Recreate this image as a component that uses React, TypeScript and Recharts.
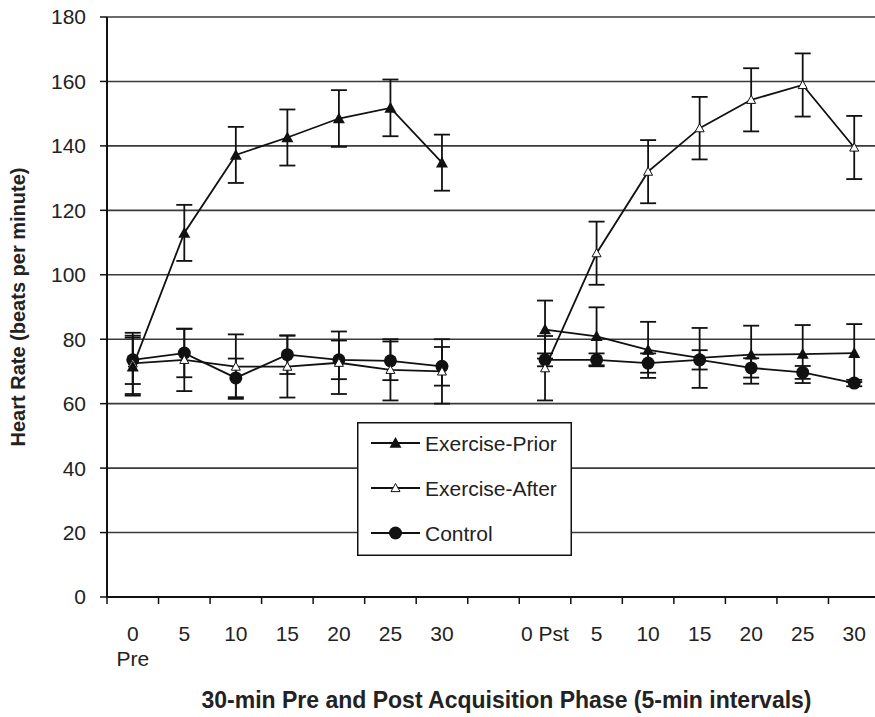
import React from "react";
import { ComposedChart, Line, XAxis, YAxis, CartesianGrid, ErrorBar, Legend } from "recharts";

// 15 slots: 7 pre-phase, 1 empty gap, 7 post-phase
const categories = ["0\nPre", "5", "10", "15", "20", "25", "30", "", "0 Pst", "5", "10", "15", "20", "25", "30"];

const exercisePrior = [71.5, 113, 137.2, 142.6, 148.5, 151.8, 134.8, null, 83, 80.9, 76.7, 74.2, 75.2, 75.4, 75.7];
const exercisePriorErr = [9, 8.7, 8.7, 8.7, 8.8, 8.8, 8.7, null, 9, 9, 8.7, 9.3, 9, 9, 9];

const exerciseAfter = [72.5, 73.6, 71.5, 71.5, 72.7, 70.5, 70.0, null, 71, 106.7, 132, 145.5, 154.3, 158.9, 139.5];
const exerciseAfterErr = [9.5, 9.7, 10, 9.6, 9.7, 9.5, 10, null, 10, 9.8, 9.8, 9.7, 9.8, 9.8, 9.8];

const control = [73.6, 75.7, 68.0, 75.2, 73.6, 73.3, 71.6, null, 73.6, 73.6, 72.6, 73.6, 71.1, 69.7, 66.4];
const controlErr = [7.5, 7.5, 6, 6, 6, 6, 6, null, 2, 2, 3, 3, 3, 2, 1];

const yTicks = [0, 20, 40, 60, 80, 100, 120, 140, 160, 180];

const font = "'Liberation Sans', Arial, sans-serif";
const ink = "#111";

const data = categories.map((label, i) => ({
  x: i + 0.5,
  label,
  prior: exercisePrior[i],
  priorErr: exercisePriorErr[i],
  after: exerciseAfter[i],
  afterErr: exerciseAfterErr[i],
  control: control[i],
  controlErr: controlErr[i],
}));

const boundaryTicks = categories.map((_, i) => i).concat(categories.length);
const labelTicks = categories.map((_, i) => i + 0.5).filter((_, i) => categories[i] !== "");

const FilledTriangle = (props: any) => {
  const { cx, cy, index } = props;
  if (cx == null || cy == null) return <g key={`fp${index}`} />;
  const s = 6;
  return <path key={`fp${index}`} d={`M${cx},${cy - s} L${cx + s},${cy + s * 0.8} L${cx - s},${cy + s * 0.8} Z`} fill={ink} />;
};

const OpenTriangle = (props: any) => {
  const { cx, cy, index } = props;
  if (cx == null || cy == null) return <g key={`oa${index}`} />;
  const s = 4.5;
  return <path key={`oa${index}`} d={`M${cx},${cy - s} L${cx + s},${cy + s * 0.8} L${cx - s},${cy + s * 0.8} Z`} fill="#fff" stroke={ink} strokeWidth={1} />;
};

const Circle = (props: any) => {
  const { cx, cy, index } = props;
  if (cx == null || cy == null) return <g key={`cc${index}`} />;
  return <circle key={`cc${index}`} cx={cx} cy={cy} r={6.5} fill={ink} />;
};

const XTick = (props: any) => {
  const { x, y, payload } = props;
  const lines = categories[Math.floor(payload.value)].split("\n");
  return (
    <text x={x} y={y} textAnchor="middle" fontSize={21} fill="#222" fontFamily={font}>
      {lines.map((l, i) => (
        <tspan key={i} x={x} dy={i === 0 ? 34 : 25}>{l}</tspan>
      ))}
    </text>
  );
};

const YTitle = (props: any) => {
  const vb = props.viewBox || {};
  const x = (vb.x || 0) + 18;
  const y = (vb.y || 0) + (vb.height || 0) / 2;
  return (
    <text
      x={x}
      y={y}
      transform={`rotate(-90, ${x}, ${y})`}
      textAnchor="middle"
      dominantBaseline="central"
      fontSize={20}
      fontWeight="bold"
      fill="#222"
      fontFamily={font}
    >
      Heart Rate (beats per minute)
    </text>
  );
};

const legendItems = [
  { name: "Exercise-Prior", Marker: FilledTriangle },
  { name: "Exercise-After", Marker: OpenTriangle },
  { name: "Control", Marker: Circle },
];

const LegendBox = () => (
  <svg width={215} height={134} style={{ display: "block" }}>
    <rect x={0.75} y={0.75} width={213.5} height={132.5} fill="#fff" stroke={ink} strokeWidth={1.5} />
    {legendItems.map((it, i) => {
      const cy = 21 + i * 45;
      return (
        <g key={it.name}>
          <line x1={14} x2={63} y1={cy} y2={cy} stroke={ink} strokeWidth={1.8} />
          <it.Marker cx={38.5} cy={cy} index={i} />
          <text x={68} y={cy + 7.5} fontSize={21} fill="#222" fontFamily={font}>{it.name}</text>
        </g>
      );
    })}
  </svg>
);

export default function App() {
  return (
    <div style={{ position: "absolute", left: 0, top: 0, width: 875, height: 717, overflow: "hidden", background: "#fff" }}>
      <ComposedChart width={890} height={717} data={data} margin={{ top: 17, right: 10, left: 0, bottom: 0 }}>
        <CartesianGrid vertical={false} stroke="#3a3a3a" strokeWidth={1.6} />
        <XAxis
          dataKey="x"
          type="number"
          domain={[0, categories.length]}
          ticks={boundaryTicks}
          interval={0}
          height={10}
          tickSize={7}
          tickFormatter={() => ""}
          axisLine={{ stroke: ink, strokeWidth: 2 }}
          tickLine={{ stroke: ink, strokeWidth: 1.5 }}
        />
        <XAxis
          xAxisId="lab"
          dataKey="x"
          type="number"
          domain={[0, categories.length]}
          ticks={labelTicks}
          interval={0}
          height={110}
          tickSize={0}
          tickMargin={0}
          axisLine={false}
          tickLine={false}
          tick={<XTick />}
          label={{
            value: "30-min Pre and Post Acquisition Phase (5-min intervals)",
            position: "insideBottom",
            offset: 9,
            dx: 13,
            style: { fontSize: 23, fontWeight: "bold", fill: "#222", fontFamily: font },
          }}
        />
        <YAxis
          type="number"
          domain={[0, 180]}
          ticks={yTicks}
          interval={0}
          width={107}
          tickSize={7}
          tickMargin={14}
          axisLine={{ stroke: ink, strokeWidth: 2 }}
          tickLine={{ stroke: ink, strokeWidth: 1.5 }}
          tick={{ fontSize: 21, fill: "#222", fontFamily: font }}
          label={<YTitle />}
        />
        <Legend
          layout="vertical"
          align="center"
          verticalAlign="middle"
          wrapperStyle={{ left: 357, top: 422, width: 215, height: 134 }}
          content={() => <LegendBox />}
        />
        <Line
          xAxisId="lab"
          dataKey="control"
          name="Control"
          stroke={ink}
          strokeWidth={1.8}
          dot={Circle}
          activeDot={false}
          isAnimationActive={false}
        >
          <ErrorBar dataKey="controlErr" width={8} stroke={ink} strokeWidth={1.8} />
        </Line>
        <Line
          xAxisId="lab"
          dataKey="after"
          name="Exercise-After"
          stroke={ink}
          strokeWidth={1.8}
          dot={OpenTriangle}
          activeDot={false}
          isAnimationActive={false}
        >
          <ErrorBar dataKey="afterErr" width={8} stroke={ink} strokeWidth={1.8} />
        </Line>
        <Line
          xAxisId="lab"
          dataKey="prior"
          name="Exercise-Prior"
          stroke={ink}
          strokeWidth={1.8}
          dot={FilledTriangle}
          activeDot={false}
          isAnimationActive={false}
        >
          <ErrorBar dataKey="priorErr" width={8} stroke={ink} strokeWidth={1.8} />
        </Line>
      </ComposedChart>
    </div>
  );
}
